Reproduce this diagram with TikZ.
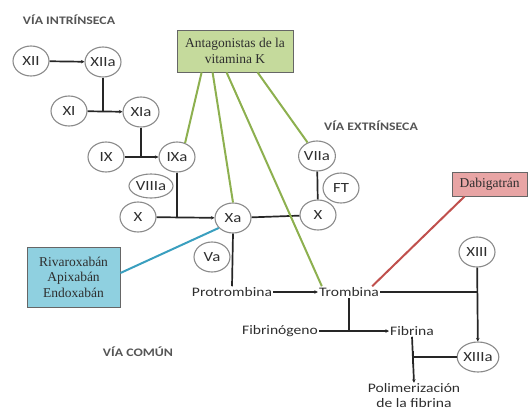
\documentclass[tikz,border=0pt]{standalone}
\usepackage{fontspec}
\setmainfont{Liberation Serif}
\setsansfont[FakeStretch=1.2]{Carlito}
\usetikzlibrary{shapes.geometric,arrows.meta,calc}
\definecolor{txt}{HTML}{2E2E2E}
\definecolor{hdgray}{HTML}{555555}
\definecolor{circgray}{HTML}{8A8A8A}
\definecolor{greenfill}{HTML}{C5DA9C}
\definecolor{greenline}{HTML}{8DB04F}
\definecolor{bluefill}{HTML}{8FD0E0}
\definecolor{blueline}{HTML}{3A9FBF}
\definecolor{redfill}{HTML}{E8A5A5}
\definecolor{redline}{HTML}{C0504D}
\begin{document}
\begin{tikzpicture}[x=1pt,y=-1pt,
  fac/.style={ellipse, draw=circgray, line width=1.1pt, minimum width=36pt, minimum height=30pt,
    inner sep=0pt, font=\sffamily\fontsize{14}{14}\selectfont, text=txt},
  lbl/.style={font=\sffamily\fontsize{13}{15}\selectfont, text=txt, inner sep=1pt, align=center},
  hd/.style={font=\sffamily\bfseries\fontsize{11.5}{12}\selectfont, text=hdgray, inner sep=0pt},
  drugbox/.style={draw=gray!80!black, line width=0.8pt, inner sep=2pt, align=center,
    font=\rmfamily\fontsize{13.5}{15.5}\selectfont, text=txt},
  conn/.style={line width=1.7pt, draw=black!85},
  arr/.style={conn, -{Stealth[length=3.5pt,width=3.5pt]}},
  gline/.style={line width=2pt, draw=greenline},
]
\useasboundingbox (0,0) rectangle (530,413);

% headings
\node[hd] (hint) at (69,20) {VÍA INTRÍNSECA};
\node[hd] (hext) at (371,126) {VÍA EXTRÍNSECA};
\node[hd] (hcom) at (138,352) {VÍA COMÚN};

% factors
\node[fac] (XII) at (31,61) {XII};
\node[fac] (XIIa) at (103,62) {XIIa};
\node[fac] (XI) at (69,111) {XI};
\node[fac] (XIa) at (141,112) {XIa};
\node[fac] (IX) at (106,157) {IX};
\node[fac] (IXa) at (177,157) {IXa};
\node[fac, minimum width=44pt, minimum height=24pt] (VIIIa) at (151,186) {VIIIa};
\node[fac] (X) at (138,217) {X};
\node[fac] (Xa) at (233,218) {Xa};
\node[fac] (VIIa) at (317,156) {VIIa};
\node[fac] (FT) at (341,188) {FT};
\node[fac] (Xe) at (318,215) {X};
\node[fac] (Va) at (212,257) {Va};
\node[fac] (XIII) at (477,252) {XIII};
\node[fac] (XIIIa) at (478,357) {XIIIa};

% text labels
\node[lbl] (Prot) at (232,292) {Protrombina};
\node[lbl] (Trom) at (349,292) {Trombina};
\node[lbl] (Fgen) at (280,331) {Fibrinógeno};
\node[lbl] (Fib) at (412,331) {Fibrina};
\node[lbl] (Pol) at (414,396) {Polimerización\\de la fibrina};

% drug boxes
\node[drugbox, fill=greenfill, minimum width=116pt, minimum height=42pt] (AVK) at (235,51) {Antagonistas de la\\vitamina K};
\node[drugbox, fill=bluefill, minimum width=93pt, minimum height=60pt] (Riv) at (73.5,277) {Rivaroxabán\\Apixabán\\Endoxabán};
\node[drugbox, fill=redfill, minimum width=75pt, minimum height=24pt] (Dab) at (489.5,184) {Dabigatrán};

% intrinsic cascade
\draw[arr] (XII) -- (XIIa);
\draw[arr] (XI) -- (XIa);
\draw[conn] (XIIa.south) -- (XIIa.south |- XI.east);
\draw[arr] (IX) -- (IXa);
\draw[conn] (XIa.south) -- (XIa.south |- IX.east);
\draw[arr] (X) -- (Xa);
\draw[conn] (IXa.south) -- (IXa.south |- X.east);

% extrinsic
\draw[conn] (VIIa) -- (Xe);
\draw[conn] (Xe) -- (Xa);

% common
\draw[conn] (Xa.south) -- (Prot.north);
\draw[arr] (Prot) -- (Trom);
\draw[conn] (Trom.east) -- (XIII.south |- Trom.east);
\draw[arr] (XIII) -- (XIIIa);
\draw[conn] (Trom.south) -- (Trom.south |- Fgen.east);
\draw[arr] (Fgen) -- (Fib);
\draw[arr] (Fib.south) -- (Pol.north);
\draw[conn, -{Bar[width=13pt]}] (XIIIa.west) -- (Fib.south |- XIIIa.west);

% inhibitor lines
\draw[gline] ([xshift=25pt]AVK.south west) -- (IXa.60);
\draw[gline] ([xshift=36pt]AVK.south west) -- (Xa.north);
\draw[gline] ([xshift=50pt]AVK.south west) -- ([xshift=4pt]Trom.north west);
\draw[gline] ([xshift=81pt]AVK.south west) -- (VIIa.125);
\draw[line width=2pt, draw=blueline] ([yshift=4pt]Riv.east) -- (Xa.215);
\draw[line width=2pt, draw=redline] ([xshift=13pt]Dab.south west) -- ([xshift=-8pt]Trom.north east);
\end{tikzpicture}
\end{document}
